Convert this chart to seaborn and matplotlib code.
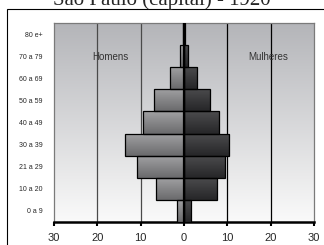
import numpy as np
import pandas as pd
import matplotlib
matplotlib.use("Agg")
import matplotlib.pyplot as plt
from matplotlib.patches import Rectangle
from matplotlib.colors import LinearSegmentedColormap
import seaborn as sns

# age groups, top row first
faixas = ["80 e+", "70 a 79", "60 a 69", "50 a 59", "40 a 49",
          "30 a 39", "21 a 29", "10 a 20", "0 a 9"]
homens = [0.2, 0.9, 3.2, 6.9, 9.4, 13.6, 10.9, 6.5, 1.5]
mulheres = [0.3, 0.9, 3.1, 6.0, 8.1, 10.4, 9.5, 7.6, 1.7]
xticks = [-30, -20, -10, 0, 10, 20, 30]

df = pd.DataFrame({
    "faixa": faixas * 2,
    "pop": [-v for v in homens] + mulheres,
    "sexo": ["Homens"] * len(faixas) + ["Mulheres"] * len(faixas),
})

sns.set_style("white")
fig = plt.figure(figsize=(3.24, 2.45), dpi=100)
ax = fig.add_axes([0.1667, 0.094, 0.802, 0.812])

sns.barplot(data=df, x="pop", y="faixa", hue="sexo", order=faixas,
            dodge=False, width=1.0, palette=["#858587", "#38383a"],
            edgecolor="black", linewidth=0.9, legend=False, ax=ax, zorder=3)

# background gradient of the plot area
bg = LinearSegmentedColormap.from_list("bg", ["#b4b5b9", "#fafafa"])
ax.imshow(np.linspace(0, 1, 256).reshape(-1, 1), cmap=bg, aspect="auto",
          extent=[0, 1, 0, 1], transform=ax.transAxes, zorder=0)

# vertical shading inside each bar
cm_h = LinearSegmentedColormap.from_list("h", ["#a2a2a4", "#6a6a6c"])
cm_m = LinearSegmentedColormap.from_list("m", ["#4c4c4e", "#262628"])
grad = np.linspace(0, 1, 64).reshape(-1, 1)
for p in list(ax.patches):
    x0, y0, w, h = p.get_x(), p.get_y(), p.get_width(), p.get_height()
    if w == 0:
        continue
    cm = cm_h if x0 + w <= 0.001 else cm_m
    im = ax.imshow(grad, cmap=cm, aspect="auto",
                   extent=[x0, x0 + w, y0 + h, y0], zorder=3.5)
    im.set_clip_path(p)
    p.set_facecolor("none")
    p.set_zorder(4)

ax.set_xlim(-30, 30)
ax.set_ylim(8.5, -0.5)

for g in [-20, -10, 10, 20]:
    ax.axvline(g, color="#4a4a4a" if g < 0 else "black", lw=0.9, zorder=1)
ax.axvline(0, color="black", lw=1.6, zorder=5)

ax.set_xticks(xticks)
ax.set_xticklabels([str(abs(t)) for t in xticks], fontsize=8,
                   family="Liberation Sans")
ax.tick_params(axis="x", length=3, width=1.5, color="black", pad=5,
               bottom=True)
ax.tick_params(axis="y", length=0, labelsize=5, pad=8)
for lab in ax.get_yticklabels():
    lab.set_family("Liberation Sans")
ax.set_xlabel("")
ax.set_ylabel("")

for s in ["left", "top", "right"]:
    ax.spines[s].set_color("#7a7a7a")
    ax.spines[s].set_linewidth(0.9)
ax.spines["bottom"].set_color("black")
ax.spines["bottom"].set_linewidth(1.8)

ax.text(-17, 1.05, "Homens", fontsize=7, color="#333333",
        ha="center", va="center", family="Liberation Sans", zorder=6)
ax.text(19.5, 1.05, "Mulheres", fontsize=7, color="#333333",
        ha="center", va="center", family="Liberation Sans", zorder=6)

fig.patches.append(Rectangle((6.7 / 324, -0.1), 1.2, 1 - 9.3 / 245 + 0.1,
                             transform=fig.transFigure, fill=False,
                             edgecolor="black", linewidth=0.8))
fig.text(0.5, 1 - 4.5 / 245, "São Paulo (capital) - 1920", ha="center",
         va="baseline", fontsize=15, family="Liberation Serif")

fig.savefig("out.png", dpi=100)
